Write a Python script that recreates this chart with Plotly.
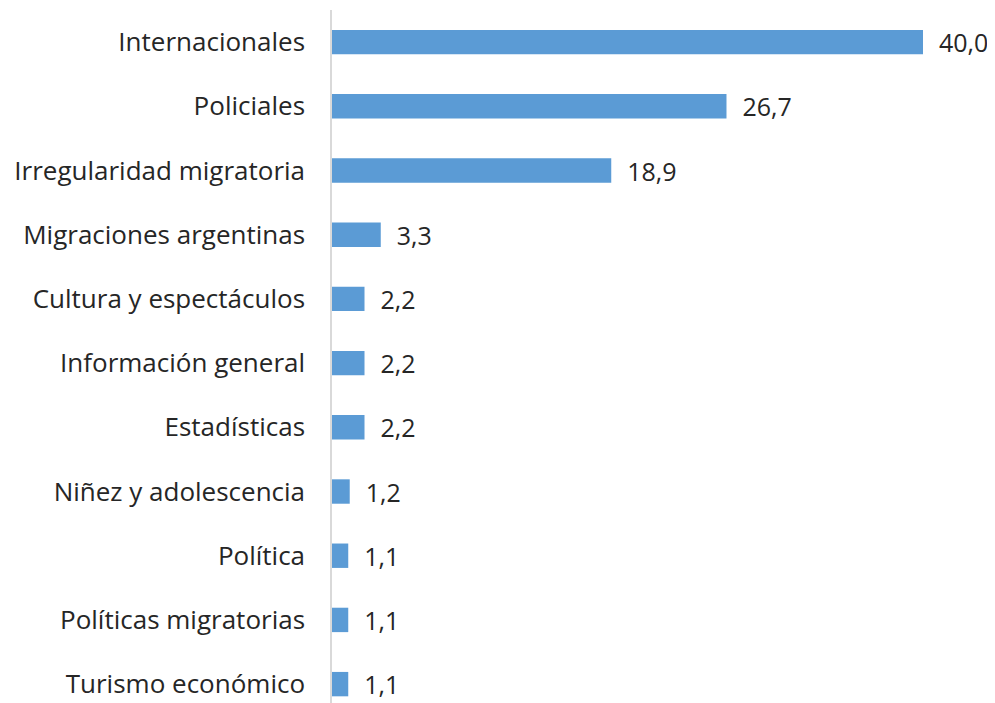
import plotly.graph_objects as go

categories = ["Internacionales", "Policiales", "Irregularidad migratoria",
              "Migraciones argentinas", "Cultura y espectáculos", "Información general",
              "Estadísticas", "Niñez y adolescencia", "Política",
              "Políticas migratorias", "Turismo económico"]
values = [40.0, 26.7, 18.9, 3.3, 2.2, 2.2, 2.2, 1.2, 1.1, 1.1, 1.1]
value_labels = ["40,0", "26,7", "18,9", "3,3", "2,2", "2,2", "2,2", "1,2", "1,1", "1,1", "1,1"]

fig = go.Figure(go.Bar(
    x=values, y=categories, orientation="h",
    marker=dict(color="#5B9BD5", line=dict(width=0)),
    text=["  " + t for t in value_labels], textposition="outside",
    textfont=dict(size=25, color="#262626"),
    constraintext="none",
    cliponaxis=False, width=0.38,
))

# The page body has an 8px margin, so the figure is sized to the visible area.
fig.update_layout(
    width=987, height=695,
    margin=dict(l=324, r=72, t=2, b=0, autoexpand=False),
    paper_bgcolor="white", plot_bgcolor="white",
    font=dict(family="Open Sans", size=26, color="#262626"),
    showlegend=False,
    xaxis=dict(range=[0, 40], showgrid=False, showticklabels=False, zeroline=False,
               showline=False, ticks="", automargin=False),
    yaxis=dict(type="category", categoryorder="array", categoryarray=categories,
               range=[10.294, -0.5], showgrid=False, showline=True,
               linecolor="#d9d9d9", linewidth=1.5, ticks="", automargin=False,
               ticklabelstandoff=20, tickfont=dict(size=26, color="#262626")),
)

fig.write_html("out.html")
